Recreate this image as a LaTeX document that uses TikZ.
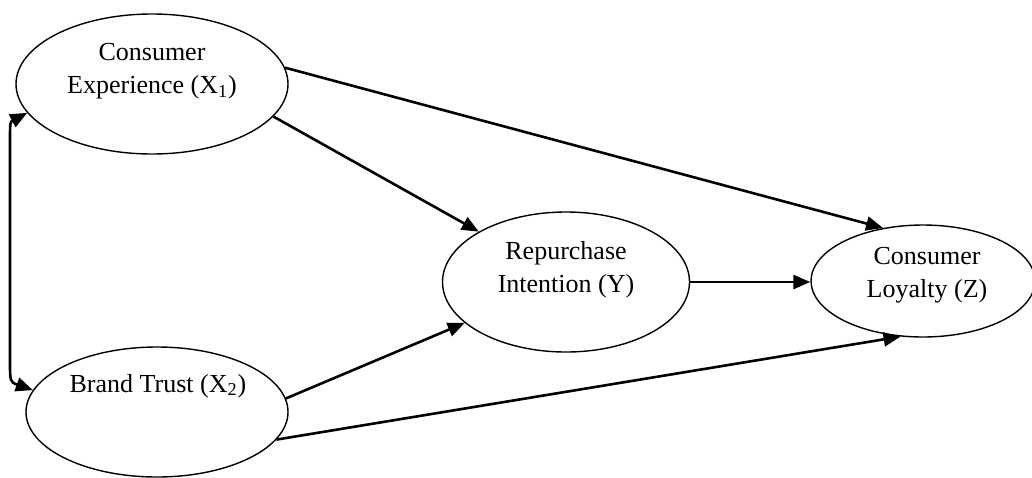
\documentclass[tikz,border=0pt]{standalone}
\usepackage{fontspec}
\setmainfont{Liberation Serif}
\usetikzlibrary{arrows.meta,shapes.geometric}
\begin{document}
\begin{tikzpicture}[x=0.5pt,y=-0.5pt,
  construct/.style={ellipse,draw,line width=0.7pt,inner sep=0pt},
  caption/.style={font=\fontsize{13}{16.5}\selectfont,align=center,inner sep=0pt},
  tip/.style={Triangle[length=8.5pt,width=7pt]},
  link/.style={line width=1.3pt,-{Triangle[length=8.5pt,width=7pt]}},
  bilink/.style={line width=1.3pt,{Triangle[length=8.5pt,width=7pt]}-{Triangle[length=8.5pt,width=7pt]}}]
\useasboundingbox (0,0) rectangle (1032,477);

% latent constructs
\node[construct,minimum width=136pt,minimum height=70pt] (X1) at (152,84) {};
\node[construct,minimum width=131pt,minimum height=65pt] (X2) at (157,412) {};
\node[construct,minimum width=123.5pt,minimum height=70pt] (Y) at (566,282) {};
\node[construct,minimum width=112pt,minimum height=56pt] (Z) at (923,281) {};

% construct names
\node[caption] (tX1) at (152,71) {Consumer\\Experience (X\textsubscript{1})};
\node[caption,anchor=base] (tX2) at (158,392) {Brand Trust (X\textsubscript{2})};
\node[caption] (tY) at (566,270) {Repurchase\\Intention (Y)};
\node[caption] (tZ) at (927,275) {Consumer\\Loyalty (Z)};

% hypothesised paths
\draw[link] (X1.7) -- (Z.127);
\draw[link] (X1.-15) -- (Y.150);
\draw[link] (X2.6) -- (Y.202);
\draw[link] (X2.-13) -- (Z.248);
\draw[link] (Y.east) -- (Y.east -| Z.west);

% correlation between the exogenous constructs
\draw[bilink] (X1.193) .. controls (10,122) .. (10,145) -- (10,360) .. controls (10,382) .. (X2.170);
\end{tikzpicture}
\end{document}
